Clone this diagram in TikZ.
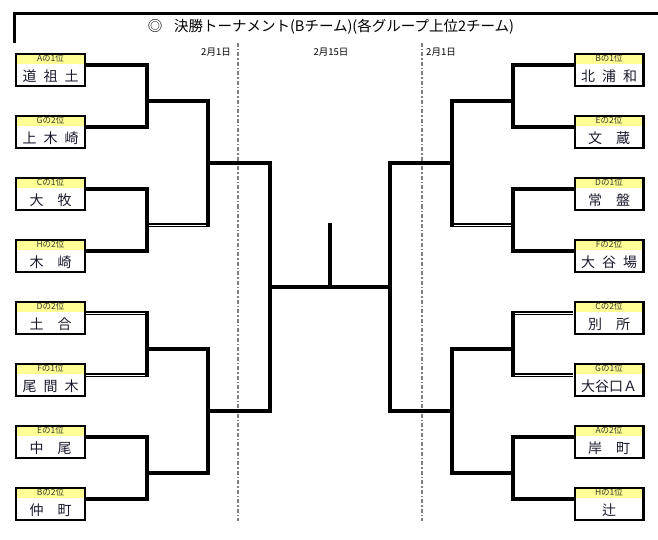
\documentclass[tikz,border=0pt]{standalone}
\usepackage{fontspec}
\setmainfont{Noto Sans CJK JP}
\definecolor{bandyellow}{RGB}{255,255,150}
\definecolor{nametext}{RGB}{25,25,45}
\definecolor{lbltext}{RGB}{55,55,40}
\definecolor{dashgray}{RGB}{128,128,128}
\newcommand{\hsp}{\hspace{0.5em}}
\newcommand{\teambox}[5]{%
  \node[team] (#1) at (#2,#3) {};
  \node[lbl] (#1l) at ([yshift=-5.6pt]#1.north) {#4};
  \node[nm] (#1n) at ([yshift=10.8pt]#1.south) {#5};
}
\begin{document}
\begin{tikzpicture}[x=1pt,y=-1pt,
  team/.style={draw, line width=2.3pt, minimum width=68.7pt, minimum height=31.7pt, inner sep=0pt,
    path picture={\fill[bandyellow] (path picture bounding box.north west) rectangle ([yshift=-10pt]path picture bounding box.north east);}},
  lbl/.style={inner sep=0pt, font=\fontsize{8.5}{9}\selectfont, text=lbltext},
  nm/.style={inner sep=0pt, font=\fontsize{14}{16}\selectfont, text=nametext},
  date/.style={inner sep=0pt, font=\fontsize{9.5}{10}\selectfont},
  title/.style={inner sep=0pt, font=\fontsize{14.5}{16}\selectfont},
  bk/.style={line width=3.8pt, line cap=rect, line join=miter},
  dbl/.style={line width=1.45pt, double=white, double distance=1.0pt, line cap=butt},
  frame/.style={line width=3pt, line cap=rect},
  dashln/.style={dashgray, line width=1.5pt, dash pattern=on 4pt off 2pt on 1.5pt off 2pt}
]
\useasboundingbox (0,0) rectangle (658,540);

% frame and title
\coordinate (fa) at (14.5,42);
\coordinate (fb) at (14.5,13.5);
\coordinate (fc) at (660,13.5);
\draw[frame] (fa) -- (fb) -- (fc);
\node[title] (ttl) at (331,27) {◎\hspace{0.8em}決勝トーナメント(Bチーム)(各グループ上位2チーム)};

% dates and dashed lines
\node[date] (dt1) at (216,52) {2月1日};
\node[date] (dt2) at (331,52) {2月15日};
\node[date] (dt3) at (441,52) {2月1日};
\coordinate (d1t) at (238,43);
\coordinate (d1b) at (238,521);
\coordinate (d2t) at (422,43);
\coordinate (d2b) at (422,521);
\draw[dashln] (d1t) -- (d1b);
\draw[dashln] (d2t) -- (d2b);

% junctions
\coordinate (pL1) at (147,101);
\coordinate (pL2) at (147,225);
\coordinate (pL3) at (147,349);
\coordinate (pL4) at (147,473);
\coordinate (sL1) at (208,163);
\coordinate (sL2) at (208,411);
\coordinate (fL) at (270,287);
\coordinate (pR1) at (513,101);
\coordinate (pR2) at (513,225);
\coordinate (pR3) at (513,349);
\coordinate (pR4) at (513,473);
\coordinate (sR1) at (452,163);
\coordinate (sR2) at (452,411);
\coordinate (fR) at (390,287);
\coordinate (cmid) at (330,287);
\coordinate (cup) at (330,225);

% box anchor points (line ends)
\coordinate (A1o) at (86,65);
\coordinate (G2o) at (86,127);
\coordinate (C1o) at (86,189);
\coordinate (H2o) at (86,251);
\coordinate (D2o) at (86,313);
\coordinate (F1o) at (86,375);
\coordinate (E1o) at (86,437);
\coordinate (B2o) at (86,499);
\coordinate (B1o) at (573,65);
\coordinate (E2o) at (573,127);
\coordinate (D1o) at (573,189);
\coordinate (F2o) at (573,251);
\coordinate (C2o) at (573,313);
\coordinate (G1o) at (573,375);
\coordinate (A2o) at (573,437);
\coordinate (H1o) at (573,499);

% double lines first
\draw[dbl] (pL2) -- (sL1 |- pL2);
\draw[dbl] (D2o) -- (pL3 |- D2o);
\draw[dbl] (F1o) -- (pL3 |- F1o);
\draw[dbl] (pR2) -- (sR1 |- pR2);
\draw[dbl] (C2o) -- (pR3 |- C2o);
\draw[dbl] (G1o) -- (pR3 |- G1o);

% left bracket
\draw[bk] (A1o) -| (pL1) |- (G2o);
\draw[bk] (C1o) -| (pL2) |- (H2o);
\draw[bk] (pL3 |- D2o) -- (pL3 |- F1o);
\draw[bk] (E1o) -| (pL4) |- (B2o);
\draw[bk] (pL1) -| (sL1) -| (fL);
\draw[bk] (sL1) -- (sL1 |- pL2);
\draw[bk] (pL3) -| (sL2);
\draw[bk] (pL4) -| (sL2);
\draw[bk] (sL2) -| (fL);

% right bracket
\draw[bk] (B1o) -| (pR1) |- (E2o);
\draw[bk] (D1o) -| (pR2) |- (F2o);
\draw[bk] (pR3 |- C2o) -- (pR3 |- G1o);
\draw[bk] (A2o) -| (pR4) |- (H1o);
\draw[bk] (pR1) -| (sR1) -| (fR);
\draw[bk] (sR1) -- (sR1 |- pR2);
\draw[bk] (pR3) -| (sR2);
\draw[bk] (pR4) -| (sR2);
\draw[bk] (sR2) -| (fR);

% final
\draw[bk] (fL) -- (fR);
\draw[bk] (cmid) -- (cup);

% team boxes
\teambox{A1}{50.5}{70}{Aの1位}{道\hsp 祖\hsp 土}
\teambox{G2}{50.5}{132}{Gの2位}{上\hsp 木\hsp 崎}
\teambox{C1}{50.5}{194}{Cの1位}{大　牧}
\teambox{H2}{50.5}{256}{Hの2位}{木　崎}
\teambox{D2}{50.5}{318}{Dの2位}{土　合}
\teambox{F1}{50.5}{380}{Fの1位}{尾\hsp 間\hsp 木}
\teambox{E1}{50.5}{442}{Eの1位}{中　尾}
\teambox{B2}{50.5}{504}{Bの2位}{仲　町}
\teambox{B1}{609}{70}{Bの1位}{北\hsp 浦\hsp 和}
\teambox{E2}{609}{132}{Eの2位}{文　蔵}
\teambox{D1}{609}{194}{Dの1位}{常　盤}
\teambox{F2}{609}{256}{Fの2位}{大\hsp 谷\hsp 場}
\teambox{C2}{609}{318}{Cの2位}{別　所}
\teambox{G1}{609}{380}{Gの1位}{大谷口Ａ}
\teambox{A2}{609}{442}{Aの2位}{岸　町}
\teambox{H1}{609}{504}{Hの1位}{辻}
\end{tikzpicture}
\end{document}
